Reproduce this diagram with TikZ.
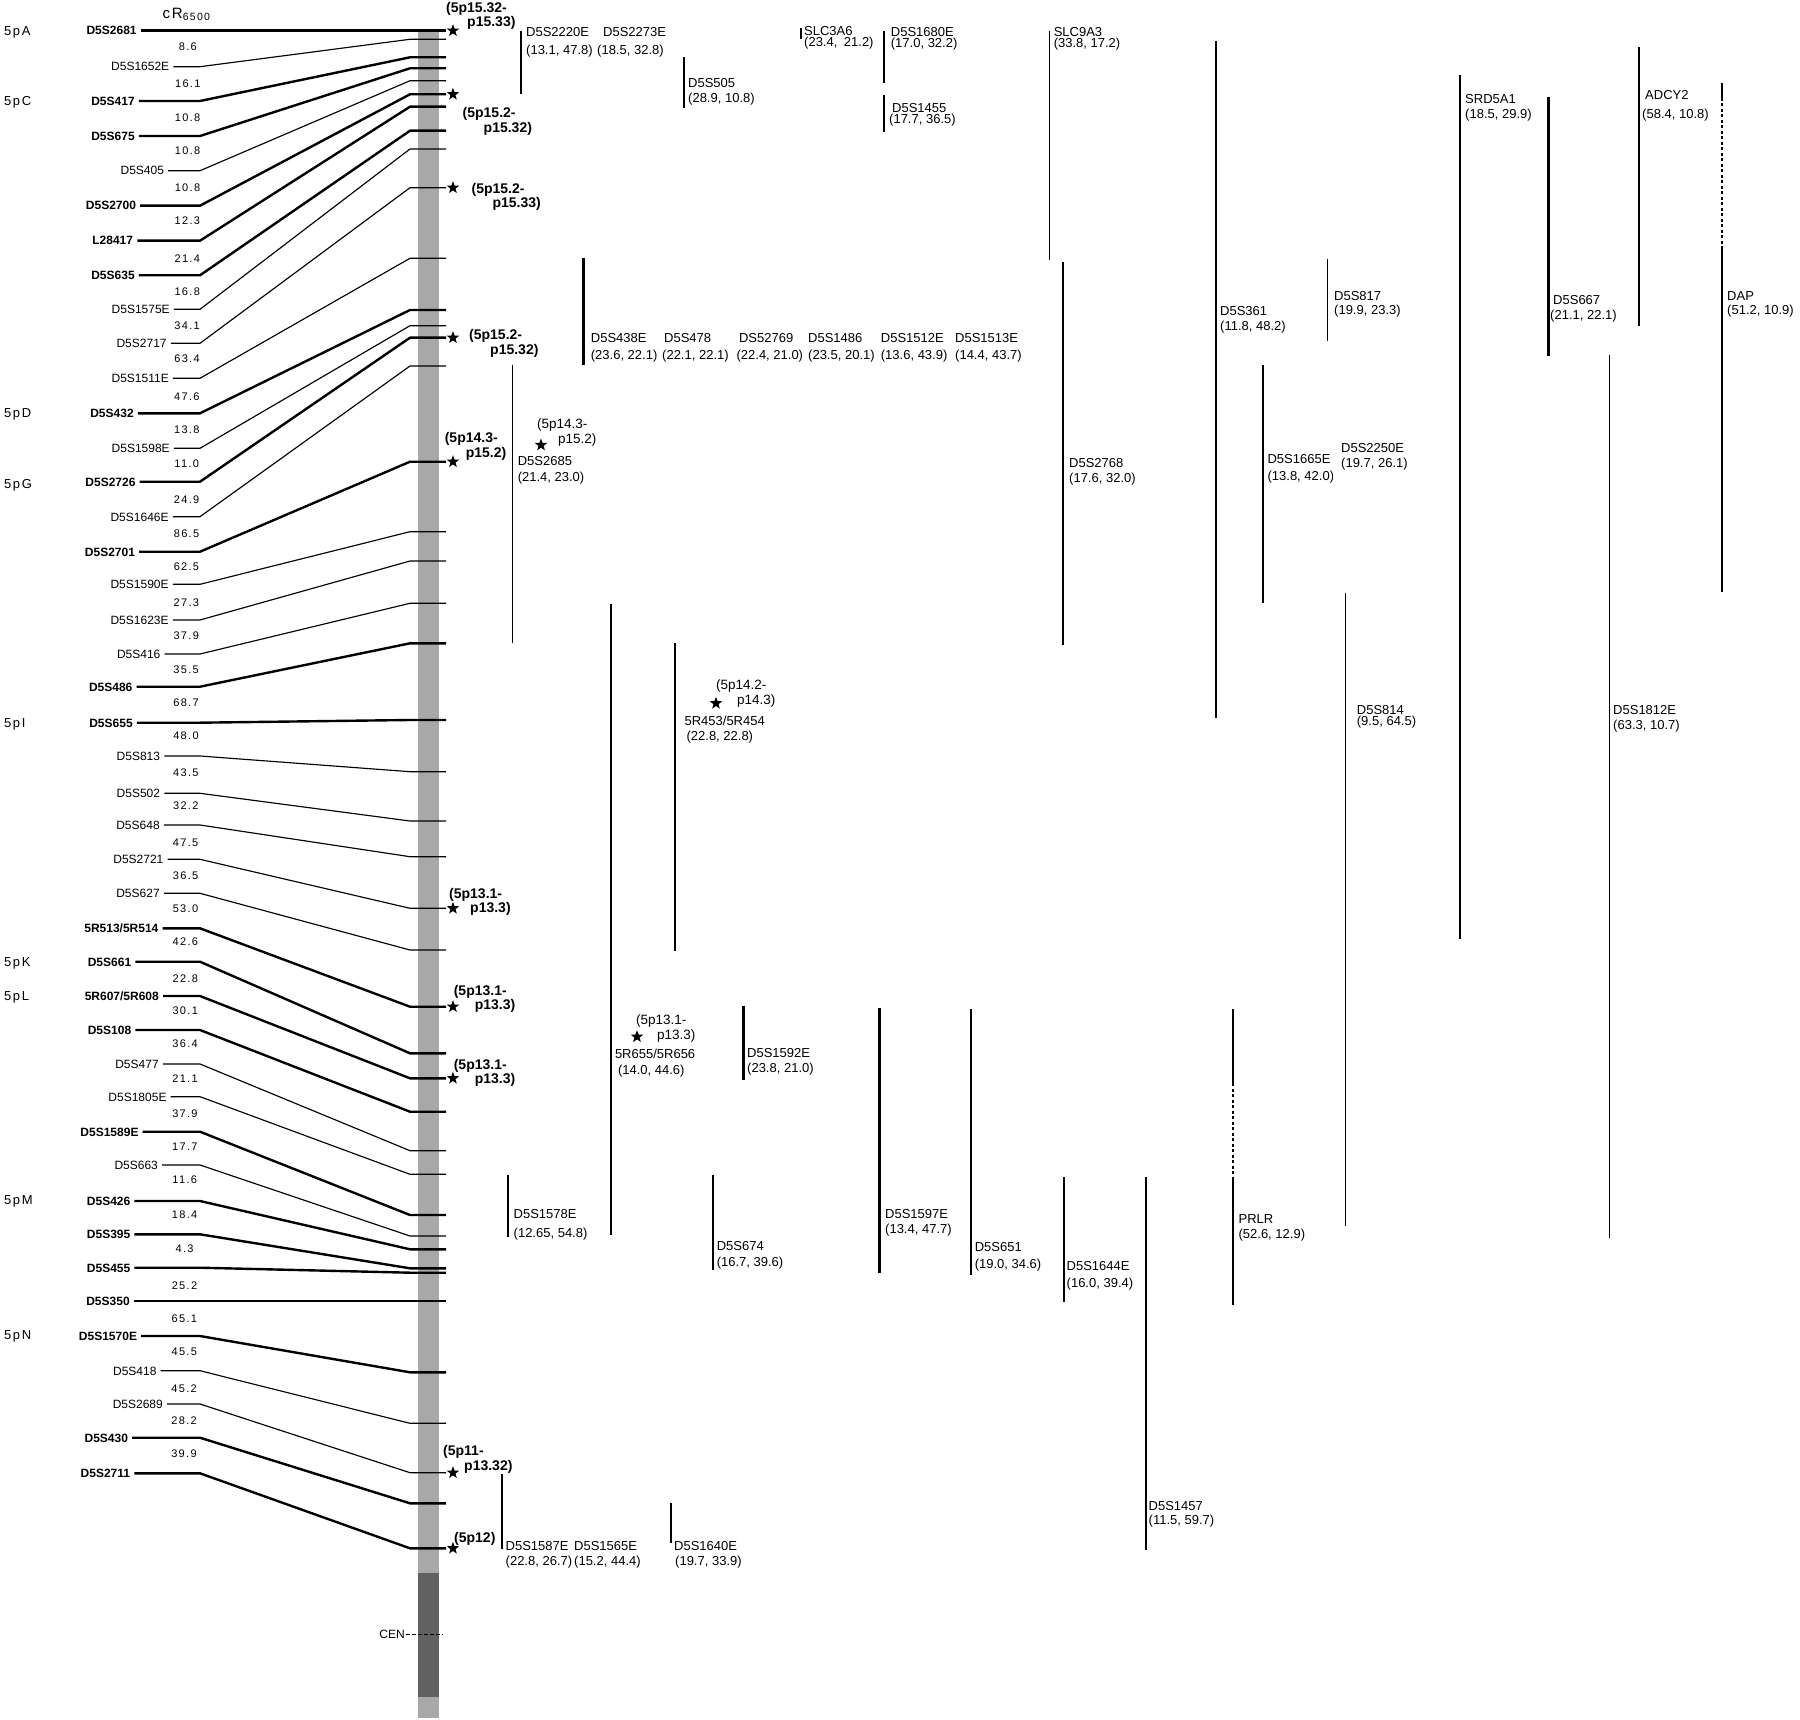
\documentclass[tikz,border=0pt]{standalone}
\usepackage{fontspec}
\setmainfont{Liberation Sans}
\newfontfamily\spaced{Liberation Sans}[LetterSpace=12]
\usetikzlibrary{shapes.geometric, positioning}
\newcommand\pind{\hspace*{21pt}}

\begin{document}
\begin{tikzpicture}[
    x=1pt, y=-1pt,
    line join=round,
    fwlbl/.style={font=\fontsize{12}{12}\selectfont\bfseries, text height=8.6pt, text depth=0pt, inner ysep=0pt, inner xsep=4pt},
    axlbl/.style={font=\fontsize{12}{12}\selectfont, text height=8.6pt, text depth=0pt, inner ysep=0pt, inner xsep=4pt},
    fwline/.style={line width=2.4pt},
    axline/.style={line width=1.15pt},
    dist/.style={font=\spaced\fontsize{11}{11}\selectfont, text height=7.9pt, text depth=0pt, inner sep=0pt},
    armlbl/.style={font=\spaced\fontsize{13}{13}\selectfont, anchor=west, text height=9.3pt, text depth=0pt, inner sep=0pt},
    astk/.style={star, star points=5, star point ratio=2.4, fill=black, inner sep=0pt, minimum size=13pt},
    bandlbl/.style={font=\fontsize{14}{14.5}\selectfont\bfseries, align=left, anchor=north west, inner sep=0pt},
    bandlblr/.style={font=\fontsize{13.5}{15}\selectfont, align=left, anchor=north west, inner sep=0pt},
    lbl/.style={font=\fontsize{13}{15.5}\selectfont, align=left, anchor=north west, inner sep=0pt},
    lblt/.style={font=\fontsize{13}{11.5}\selectfont, align=left, anchor=north west, inner sep=0pt},
    clone/.style={line width=1.9pt},
    cloneb/.style={line width=2.7pt},
    gapline/.style={line width=1.3pt, dash pattern=on 3pt off 2.5pt}
]
\useasboundingbox (0,0) rectangle (1800,1720);

% chromosome bar
\fill[black!34] (418,30) rectangle (439,1718);
\fill[black!62] (418,1573) rectangle (439,1697);
\coordinate (knee) at (200,0);

\node[font=\spaced\fontsize{15}{15}\selectfont, inner sep=0pt, anchor=base west] (hdr) at (162.5,18.1) {cR\textsubscript{6500}};

% arm regions
\foreach \t/\y in {5pA/30.7, 5pC/101, 5pD/413.3, 5pG/484, 5pI/722.7, 5pK/961.7, 5pL/996, 5pM/1200, 5pN/1335}
    \node[armlbl] (a\t) at (4,\y) {\t};

% framework markers
\foreach \i/\nm/\lx/\ly/\ty in {1/D5S2681/111.6/30.7/30.7, 3/D5S417/113/101/57.3,
    4/D5S675/113/136/68.3, 6/D5S2700/111/205.7/94.3, 7/L28417/112.7/240.7/106.7,
    8/D5S635/113/275.3/130.7, 12/D5S432/112/413.3/310, 14/D5S2726/110.5/481.7/337.7,
    16/D5S2701/110/551.7/461.7, 20/D5S486/110.7/686.7/643.3, 21/D5S655/111/722.7/720,
    27/{5R513/5R514}/121.4/928.3/1006.7, 28/D5S661/109.5/961.7/1053.3,
    29/{5R607/5R608}/121.8/996/1078.3, 30/D5S108/109.5/1030/1111.7,
    33/D5S1589E/109.5/1131.7/1215, 35/D5S426/108.6/1201/1249.3,
    36/D5S395/108.6/1234.3/1268.3, 37/D5S455/108.6/1267.7/1272.7,
    38/D5S350/108/1300.7/1300.7, 39/D5S1570E/108/1336/1372.3,
    42/D5S430/106.3/1437.7/1503.3, 43/D5S2711/105.4/1473.3/1548.3} {
    \node[fwlbl] (m\i) at (\lx,\ly) {\nm};
    \coordinate (t\i) at (410,\ty);
    \coordinate (e\i) at (446,\ty);
    \draw[fwline] (m\i.east) -- (m\i.east -| knee) -- (t\i) -- (e\i);
}

% other markers
\foreach \i/\nm/\lx/\ly/\ty in {2/D5S1652E/140.2/66.7/39.3, 5/D5S405/142.3/170.7/80.7,
    9/D5S1575E/140.7/309.3/149, 10/D5S2717/141.6/343.3/187.7,
    11/D5S1511E/140.2/378.3/258.3, 13/D5S1598E/140.7/448.3/325.7,
    15/D5S1646E/139.6/516.7/366, 17/D5S1590E/139.6/584.3/531.7,
    18/D5S1623E/139.6/620/561, 19/D5S416/138.7/654/603.3,
    22/D5S813/138.4/756/771.7, 23/D5S502/138.4/793.3/821,
    24/D5S648/138/825/856.7, 25/D5S2721/138.4/859.3/908.3,
    26/D5S627/138/893.3/950, 31/D5S477/137/1064/1150.7,
    32/D5S1805E/137.5/1096.7/1174.3, 34/D5S663/136.2/1165/1236,
    40/D5S418/134.8/1370.7/1423.3, 41/D5S2689/137.8/1404/1472.7} {
    \node[axlbl] (m\i) at (\lx,\ly) {\nm};
    \coordinate (t\i) at (410,\ty);
    \coordinate (e\i) at (446,\ty);
    \draw[axline] (m\i.east) -- (m\i.east -| knee) -- (t\i) -- (e\i);
}

% distances
\foreach \v/\y [count=\k] in {8.6/46.7, 16.1/83.3, 10.8/117.3, 10.8/150.7, 10.8/187.7,
    12.3/221, 21.4/258.3, 16.8/292, 34.1/325.3, 63.4/358.7, 47.6/396.7, 13.8/430,
    11.0/463.3, 24.9/500, 86.5/533.3, 62.5/566.7, 27.3/602.7, 37.9/636, 35.5/669.3,
    68.7/702.7, 48.0/736, 43.5/772.7, 32.2/806, 47.5/842.7, 36.5/876, 53.0/908.3,
    42.6/941.7, 22.8/978.3, 30.1/1010.7, 36.4/1044, 21.1/1078.3, 37.9/1113.3,
    17.7/1146.7, 11.6/1179.3, 18.4/1215, 4.3/1248.3, 25.2/1285.7, 65.1/1318.3,
    45.5/1351.7, 45.2/1388.3, 28.2/1420.7, 39.9/1454}
    \node[dist] (g\k) at ({188-4*\y/1454},\y) {\v};

% FISH positions
\node[astk, right=3pt of e1] (s1) {};
\node[bandlbl] (s1l) at (446,2.3) {(5p15.32-\\[-1pt]\pind p15.33)};
\node[astk, right=3pt of e6] (s2) {};
\node[bandlbl] (s2l) at (462.5,106.7) {(5p15.2-\\[0.5pt]\pind p15.32)};
\node[astk, right=3pt of e10] (s3) {};
\node[bandlbl] (s3l) at (471.4,182.7) {(5p15.2-\\[-0.5pt]\pind p15.33)};
\node[astk, right=3pt of e14] (s4) {};
\node[bandlbl] (s4l) at (469,329.3) {(5p15.2-\\\pind p15.32)};
\node[astk, right=3pt of e16] (s5) {};
\node[bandlbl] (s5l) at (444.6,432.3) {(5p14.3-\\\pind p15.2)};
\node[astk, right=3pt of e25] (s6) {};
\node[bandlbl] (s6l) at (449,888) {(5p13.1-\\\pind p13.3)};
\node[astk, right=3pt of e27] (s7) {};
\node[bandlbl] (s7l) at (453.6,985) {(5p13.1-\\[-0.5pt]\pind p13.3)};
\node[astk, right=3pt of e29] (s8) {};
\node[bandlbl] (s8l) at (453.6,1059) {(5p13.1-\\\pind p13.3)};
\node[astk, right=3pt of e41] (s9) {};
\node[bandlbl] (s9l) at (443,1445) {(5p11-\\[0.5pt]\pind p13.32)};
\node[astk, right=3pt of e43] (s10) {};
\node[bandlbl] (s10l) at (454,1531.7) {(5p12)};

\node[axlbl, anchor=east, inner xsep=1pt] (cen) at (406,1634.3) {CEN};
\draw[line width=1pt, dash pattern=on 4pt off 2pt] (cen.east) -- (443,1634.3);

% mapped markers and genes
\draw[cloneb] (521,31) -- (521,94);
\node[lbl] (c2220) at (526,27) {D5S2220E\\[2.5pt](13.1, 47.8)};
\node[lbl] (c2273) at (597,27) {\hspace*{6pt}D5S2273E\\[2.5pt](18.5, 32.8)};
\draw[cloneb] (684,57) -- (684,108);
\node[lbl] (c505) at (688,78) {D5S505\\(28.9, 10.8)};
\draw[clone] (800.7,28) -- (800.7,39);
\node[lblt] (cslc3) at (804,26) {SLC3A6\\(23.4,\enspace21.2)};
\draw[cloneb] (884,31) -- (884,83);
\node[lblt] (c1680) at (890.7,27) {D5S1680E\\(17.0, 32.2)};
\draw[clone] (883.6,95) -- (883.6,132);
\node[lblt] (c1455) at (889,103) {\hspace*{3pt}D5S1455\\(17.7, 36.5)};

\draw[cloneb] (583.6,258) -- (583.6,365);
\node[lbl] (c438) at (590.7,333) {D5S438E\\[1.5pt](23.6, 22.1)};
\node[lbl] (c478) at (662,333) {\hspace*{2pt}D5S478\\[1.5pt](22.1, 22.1)};
\node[lbl] (c2769) at (736.4,333) {\hspace*{2.5pt}DS52769\\[1.5pt](22.4, 21.0)};
\node[lbl] (c1486) at (808,333) {D5S1486\\[1.5pt](23.5, 20.1)};
\node[lbl] (c1512) at (880.7,333) {D5S1512E\\[1.5pt](13.6, 43.9)};
\node[lbl] (c1513) at (955,333) {D5S1513E\\[1.5pt](14.4, 43.7)};

\draw[clone] (1049.5,31) -- (1049.5,260);
\node[lblt] (cslc9) at (1053.6,27) {SLC9A3\\(33.8, 17.2)};
\draw[clone] (1063,262) -- (1063,645);
\node[lbl] (c2768) at (1069,458) {D5S2768\\(17.6, 32.0)};
\draw[clone] (1216,41) -- (1216,718);
\node[lbl] (c361) at (1220,306.7) {D5S361\\[-1pt](11.8, 48.2)};
\draw[clone] (1327.5,259) -- (1327.5,341);
\node[lbl] (c817) at (1334,291) {D5S817\\[-1pt](19.9, 23.3)};
\draw[cloneb] (1263,365) -- (1263,603);
\begin{scope}
    \clip (1262,440) rectangle (1332,495);
    \node[lbl] (c1665) at (1267.4,454) {D5S1665E\\[1.5pt](13.8, 42.0)};
\end{scope}
\node[lbl] (c2250) at (1341,443) {D5S2250E\\[-0.5pt](19.7, 26.1)};
\draw[clone] (1345.5,593) -- (1345.5,1226);
\node[lblt] (c814) at (1356.7,705) {D5S814\\(9.5, 64.5)};
\draw[clone] (1460,75) -- (1460,939);
\node[lbl] (csrd) at (1465,94) {SRD5A1\\[-0.5pt](18.5, 29.9)};
\draw[line width=2.2pt] (1548.5,97) -- (1548.5,356);
\node[lbl] (c667) at (1550,295) {\hspace*{3pt}D5S667\\[-0.5pt](21.1, 22.1)};
\draw[cloneb] (1639,47) -- (1639,326);
\node[lbl] (cadcy) at (1642,90.7) {\hspace*{3pt}ADCY2\\[2.8pt](58.4, 10.8)};
\draw[cloneb] (1722,83) -- (1722,98);
\draw[gapline] (1722,98) -- (1722,247);
\draw[clone] (1722,247) -- (1722,592);
\node[lbl] (cdap) at (1727,291) {DAP\\[-1.5pt](51.2, 10.9)};
\draw[clone] (1609.5,355) -- (1609.5,1238);
\node[lbl] (c1812) at (1613,705) {D5S1812E\\[-0.5pt](63.3, 10.7)};

\draw[clone] (512.5,365) -- (512.5,643);
\node[lbl] (c2685) at (517.6,456.7) {D5S2685\\(21.4, 23.0)};
\node[astk] (r1) at (541,445) {};
\node[bandlblr] (r1l) at (537,418.3) {(5p14.3-\\\pind p15.2)};
\draw[clone] (611,604) -- (611,1235);
\draw[clone] (675,643) -- (675,951);
\node[lbl] (c453) at (684.4,715.7) {5R453/5R454\\\hspace*{2pt}(22.8, 22.8)};
\node[astk] (r2) at (716,703.3) {};
\node[bandlblr] (r2l) at (716,680) {(5p14.2-\\[-0.7pt]\pind p14.3)};
\node[lbl] (c655) at (614.8,1049) {5R655/5R656\\\hspace*{3pt}(14.0, 44.6)};
\node[astk] (r3) at (637,1036.7) {};
\node[bandlblr] (r3l) at (636,1014.3) {(5p13.1-\\\pind p13.3)};
\draw[cloneb] (743.4,1005.7) -- (743.4,1080);
\node[lbl] (c1592) at (747,1048.3) {D5S1592E\\[-0.5pt](23.8, 21.0)};

\draw[cloneb] (508,1175) -- (508,1237);
\node[lbl] (c1578) at (513.5,1209.3) {D5S1578E\\[3pt](12.65, 54.8)};
\draw[clone] (712.6,1175) -- (712.6,1270);
\node[lbl] (c674) at (716.6,1241.7) {D5S674\\(16.7, 39.6)};
\draw[cloneb] (879.5,1008) -- (879.5,1273);
\node[lbl] (c1597) at (885,1209.3) {D5S1597E\\[-0.5pt](13.4, 47.7)};
\draw[clone] (971,1009) -- (971,1275);
\node[lbl] (c651) at (974.6,1242.7) {D5S651\\[1pt](19.0, 34.6)};
\draw[clone] (1064,1177) -- (1064,1302);
\node[lbl] (c1644) at (1066.5,1261.7) {D5S1644E\\[1pt](16.0, 39.4)};
\draw[clone] (1146,1177) -- (1146,1550);
\node[lbl] (c1457) at (1148.5,1501.7) {D5S1457\\[-1.5pt](11.5, 59.7)};
\draw[cloneb] (1233,1009) -- (1233,1083);
\draw[gapline] (1233,1083) -- (1233,1179);
\draw[cloneb] (1233,1179) -- (1233,1305);
\node[lbl] (cprlr) at (1238.4,1214.3) {PRLR\\(52.6, 12.9)};

\draw[clone] (502,1474) -- (502,1549);
\node[lbl] (c1587) at (505.5,1541) {D5S1587E\\[-0.5pt](22.8, 26.7)};
\node[lbl] (c1565) at (574,1541) {D5S1565E\\[-0.5pt](15.2, 44.4)};
\draw[clone] (671,1503) -- (671,1543);
\node[lbl] (c1640) at (674,1541) {D5S1640E\\[-0.5pt]\hspace*{1pt}(19.7, 33.9)};

\end{tikzpicture}
\end{document}
